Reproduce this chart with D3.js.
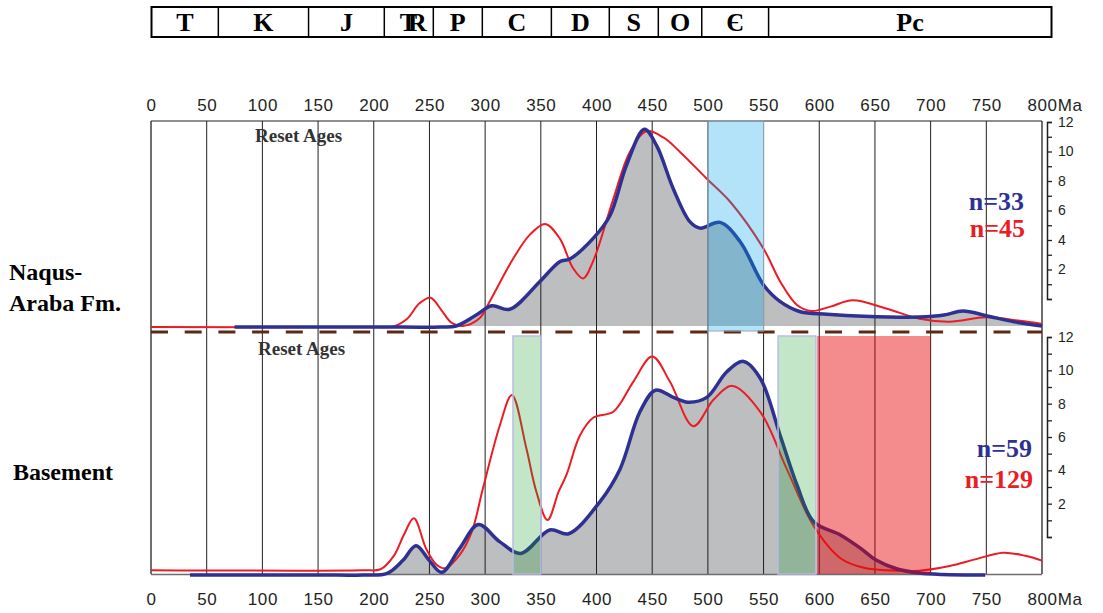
<!DOCTYPE html>
<html>
<head>
<meta charset="utf-8">
<script src="https://cdn.jsdelivr.net/npm/d3@7"></script>
<style>
  body { margin: 0; background: #fff; }
  svg { display: block; }
  .serif { font-family: "Liberation Serif", "Times New Roman", serif; font-weight: bold; }
  .sans { font-family: "Liberation Sans", Arial, sans-serif; }
</style>
</head>
<body>
<svg id="chart"></svg>
<script>
// geological time scale (Ma boundaries + labels)
var periodNames = ["T", "K", "J", "TR", "P", "C", "D", "S", "O", "\u0404", "Pc"];
var periodBounds = [0, 60, 141, 209, 253, 297, 359, 411, 455, 494, 554, 808];

// age ticks
var ageTicks = d3.range(0, 801, 50);
var countTicks = d3.range(0, 13, 1);

// Naqus-Araba Fm. (upper panel) relative probability curves
var topBlueAge = [75, 200, 260, 274, 292, 306, 322, 349, 367, 376, 397, 412, 427, 443, 454, 469, 484, 493, 511, 529, 550, 565, 583, 607, 640, 690, 712, 729, 750, 775, 800];
var topBlueVal = [0, 0, 0, 0.5, 5.8, 10.3, 8.6, 22, 31.7, 33, 43, 54, 78.6, 96, 88, 67, 51, 48, 50.8, 41.4, 20.4, 12.3, 7.4, 6.2, 5.2, 4.8, 5.8, 7.8, 5.5, 2.5, 0.5];
var topRedAge = [0, 200, 218, 230, 241, 251, 261, 270, 280, 295, 304, 325, 340, 354, 367, 379, 388, 397, 415, 430, 445, 460, 475, 499, 520, 550, 565, 580, 593, 610, 630, 660, 690, 717, 750, 780, 800];
var topRedVal = [0, 0, 0.3, 4, 11.5, 14.2, 8, 2, 0.5, 4.2, 12.3, 33, 44.7, 50, 43, 28.5, 23.6, 32, 62, 85, 95, 92, 85, 72, 60.8, 38, 22, 10.7, 7.8, 9.9, 13, 9, 4, 2.6, 4.7, 3, 1.5];

// Basement (lower panel) relative probability curves
var botBlueAge = [35, 150, 190, 212, 226, 238, 250, 261, 277, 294, 313, 332, 358, 375, 403, 421, 439, 453, 469, 482, 499, 517, 532, 547, 565, 580, 595, 619, 636, 651, 670, 690, 710, 749];
var botBlueVal = [0, 0, 0, 0.7, 6, 12.2, 6, 1.1, 11, 21, 13.9, 9, 18.75, 17.2, 30.5, 44, 68, 77, 74, 72, 74, 84.7, 89, 82, 58, 37.5, 22.2, 16.7, 11.5, 6.25, 2.5, 0.8, 0.2, 0];
var botRedAge = [0, 190, 206, 218, 227, 236, 247, 256, 264, 277, 288, 298, 313, 324, 337, 346, 356, 366, 373, 385, 397, 415, 433, 450, 466, 487, 505, 522, 547, 571, 595, 619, 640, 660, 690, 717, 740, 765, 785, 800];
var botRedVal = [2, 2, 2.4, 8, 16.7, 23.6, 11, 4.5, 2.8, 8.3, 18, 36, 62, 75, 52.8, 34.7, 22.9, 34.7, 41.7, 58, 65.5, 68, 80.5, 91, 80.5, 62, 73, 78.8, 68, 44, 20.4, 7, 3, 2, 1.8, 3.75, 6.5, 9.3, 8, 6];

// shaded age intervals
var topBands = [[500, 550]];
var topBandKinds = ["blue"];
var botBands = [[325, 350], [563, 597], [598, 700]];
var botBandKinds = ["green", "green", "red"];

// sample counts
var topCounts = ["n=33", "n=45"];
var botCounts = ["n=59", "n=129"];

var width = 1103, height = 613;
var svg = d3.select("#chart").attr("width", width).attr("height", height);

var blue = "#2e3192", red = "#ec1c24", grey = "#bcbec0", ink = "#231f20";
var bandFill = { blue: "rgb(0,162,232)", green: "rgb(20,156,36)", red: "rgb(231,0,2)" };
var bandOpacity = { blue: 0.3, green: 0.25, red: 0.45 };
var bandStroke = { blue: "#9aa6b4", green: "#b9bde3", red: "none" };

var x = d3.scaleLinear().domain([0, 800]).range([151, 1042]);
var yTop = d3.scaleLinear().domain([0, 100]).range([327, 121]);
var yBot = d3.scaleLinear().domain([0, 100]).range([575, 335]);
var rTop = d3.scaleLinear().domain([0, 12]).range([299, 122]);
var rBot = d3.scaleLinear().domain([0, 12]).range([537, 337]);

function zip(ages, vals) {
  return ages.map(function(a, i) { return { age: a, v: vals[i] }; });
}

//time scale bar
var bar = svg.append("g");
var xBar = d3.scaleLinear().domain([0, 808]).range([151.5, 1051.5]);
bar.append("rect")
  .attr("x", xBar(0)).attr("y", 7)
  .attr("width", xBar(808) - xBar(0)).attr("height", 30)
  .attr("fill", "none").attr("stroke", "#000").attr("stroke-width", 2);
bar.selectAll("line.div")
  .data(periodBounds.slice(1, -1))
  .enter().append("line")
    .attr("x1", d => xBar(d)).attr("x2", d => xBar(d))
    .attr("y1", 7).attr("y2", 37)
    .attr("stroke", "#000").attr("stroke-width", 1.5);
bar.selectAll("text.period")
  .data(periodNames)
  .enter().append("text")
    .attr("class", "serif")
    .attr("x", (d, i) => (xBar(periodBounds[i]) + xBar(periodBounds[i + 1])) / 2)
    .attr("y", 31)
    .attr("text-anchor", "middle")
    .attr("font-size", 26)
    .attr("letter-spacing", d => d === "TR" ? -9 : 0)   //Triassic symbol: T and R overlapped
    .attr("fill", "#000")
    .text(d => d);

//grey fill under blue curves
var areaTop = d3.area().curve(d3.curveCatmullRom.alpha(0.5))
  .x(d => x(d.age)).y0(yTop(0) - 1).y1(d => Math.min(yTop(d.v), yTop(0) - 1));
var areaBot = d3.area().curve(d3.curveCatmullRom.alpha(0.5))
  .x(d => x(d.age)).y0(574).y1(d => Math.min(yBot(d.v), 574));
svg.append("path").datum(zip(topBlueAge, topBlueVal)).attr("d", areaTop).attr("fill", grey);
svg.append("path").datum(zip(botBlueAge, botBlueVal)).attr("d", areaBot).attr("fill", grey);

//vertical grid lines and frame
svg.selectAll("line.grid")
  .data(ageTicks)
  .enter().append("line")
    .attr("x1", d => x(d)).attr("x2", d => x(d))
    .attr("y1", 121).attr("y2", 574)
    .attr("stroke", ink).attr("stroke-width", d => (d === 0 || d === 800) ? 1.3 : 1);
svg.append("line").attr("x1", x(0)).attr("x2", x(800)).attr("y1", 121).attr("y2", 121)
  .attr("stroke", ink).attr("stroke-width", 1.2);
svg.append("line").attr("x1", x(0)).attr("x2", x(800)).attr("y1", 574.5).attr("y2", 574.5)
  .attr("stroke", "#6d6e71").attr("stroke-width", 1.5);

//panel separator
svg.append("line")
  .attr("x1", x(0)).attr("x2", x(800)).attr("y1", 332).attr("y2", 332)
  .attr("stroke", "#5e2812").attr("stroke-width", 3)
  .attr("stroke-dasharray", "17,16.7");

//curves
var line = function(ys) {
  return d3.line().curve(d3.curveCatmullRom.alpha(0.5)).x(d => x(d.age)).y(d => ys(d.v));
};
svg.append("path").datum(zip(topRedAge, topRedVal)).attr("d", line(yTop))
  .attr("fill", "none").attr("stroke", red).attr("stroke-width", 2);
svg.append("path").datum(zip(topBlueAge, topBlueVal)).attr("d", line(yTop))
  .attr("fill", "none").attr("stroke", blue).attr("stroke-width", 3.5);
svg.append("path").datum(zip(botRedAge, botRedVal)).attr("d", line(yBot))
  .attr("fill", "none").attr("stroke", red).attr("stroke-width", 2);
svg.append("path").datum(zip(botBlueAge, botBlueVal)).attr("d", line(yBot))
  .attr("fill", "none").attr("stroke", blue).attr("stroke-width", 3.5);

//shaded intervals
svg.selectAll("rect.topband")
  .data(topBands)
  .enter().append("rect")
    .attr("x", d => x(d[0])).attr("width", d => x(d[1]) - x(d[0]))
    .attr("y", 121).attr("height", 210)
    .attr("fill", (d, i) => bandFill[topBandKinds[i]])
    .attr("fill-opacity", (d, i) => bandOpacity[topBandKinds[i]])
    .attr("stroke", (d, i) => bandStroke[topBandKinds[i]]);
svg.selectAll("rect.botband")
  .data(botBands)
  .enter().append("rect")
    .attr("x", d => x(d[0])).attr("width", d => x(d[1]) - x(d[0]))
    .attr("y", 336).attr("height", 238)
    .attr("fill", (d, i) => bandFill[botBandKinds[i]])
    .attr("fill-opacity", (d, i) => bandOpacity[botBandKinds[i]])
    .attr("stroke", (d, i) => bandStroke[botBandKinds[i]])
    .attr("stroke-width", 1.5);

//age axes
var fmt = d => d === 800 ? "800Ma" : d;
var axTop = svg.append("g").attr("transform", "translate(0,121)")
  .call(d3.axisTop(x).tickValues(ageTicks).tickSize(0).tickPadding(10).tickFormat(fmt));
var axBot = svg.append("g").attr("transform", "translate(0,574)")
  .call(d3.axisBottom(x).tickValues(ageTicks).tickSize(0).tickPadding(19).tickFormat(fmt));
[axTop, axBot].forEach(function(ax) {
  ax.select(".domain").remove();
  ax.selectAll("text")
    .attr("class", "sans")
    .attr("font-size", 17)
    .attr("fill", ink)
    .attr("letter-spacing", 0.6);
  ax.selectAll("text").filter(d => d === 800)
    .attr("text-anchor", "start").attr("dx", -15);
});

//count axes on the right
[rTop, rBot].forEach(function(sc) {
  var g = svg.append("g").attr("transform", "translate(1047,0)")
    .call(d3.axisRight(sc).tickValues(countTicks).tickSize(5).tickSizeOuter(5).tickPadding(6)
      .tickFormat(d => (d > 0 && d % 2 === 0) ? d : ""));
  g.select(".domain").attr("stroke", ink).attr("stroke-width", 1.5);
  g.selectAll(".tick line").attr("stroke", ink).attr("stroke-width", 1.3);
  g.selectAll("text").attr("class", "sans").attr("font-size", 14).attr("fill", ink);
});

//labels
svg.append("text").attr("class", "serif").attr("x", 255).attr("y", 142)
  .attr("font-size", 19).attr("fill", "#333").text("Reset Ages");
svg.append("text").attr("class", "serif").attr("x", 258).attr("y", 355)
  .attr("font-size", 19).attr("fill", "#333").text("Reset Ages");

svg.append("text").attr("class", "serif").attr("x", 9).attr("y", 280)
  .attr("font-size", 24).attr("fill", "#000").text("Naqus-");
svg.append("text").attr("class", "serif").attr("x", 9).attr("y", 311)
  .attr("font-size", 24).attr("fill", "#000").text("Araba Fm.");
svg.append("text").attr("class", "serif").attr("x", 13).attr("y", 480)
  .attr("font-size", 24).attr("fill", "#000").text("Basement");

svg.append("text").attr("class", "serif").attr("x", 1024).attr("y", 210)
  .attr("text-anchor", "end").attr("font-size", 26).attr("fill", blue).text(topCounts[0]);
svg.append("text").attr("class", "serif").attr("x", 1025).attr("y", 237)
  .attr("text-anchor", "end").attr("font-size", 26).attr("fill", red).text(topCounts[1]);
svg.append("text").attr("class", "serif").attr("x", 1032).attr("y", 457)
  .attr("text-anchor", "end").attr("font-size", 26).attr("fill", blue).text(botCounts[0]);
svg.append("text").attr("class", "serif").attr("x", 1033).attr("y", 488)
  .attr("text-anchor", "end").attr("font-size", 26).attr("fill", red).text(botCounts[1]);
</script>
</body>
</html>
